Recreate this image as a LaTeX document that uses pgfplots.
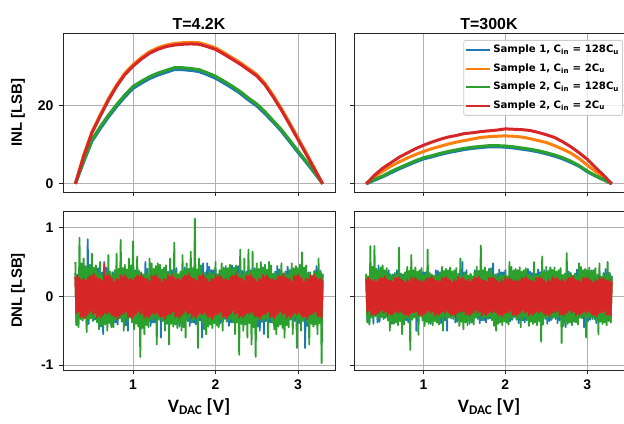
\documentclass[border=0pt]{standalone}
\usepackage{fontspec}
\setmainfont{Liberation Sans}
\newfontfamily\legfont{DejaVu Sans}
\newfontfamily\labfont{Carlito}
\usepackage{pgfplots}
\usepackage{pgfplotstable}
\pgfplotsset{compat=1.18}

\definecolor{c1}{HTML}{1F77B4}
\definecolor{c2}{HTML}{FF7F0E}
\definecolor{c3}{HTML}{2CA02C}
\definecolor{c4}{HTML}{D62728}
\definecolor{gridgray}{HTML}{B0B0B0}
\definecolor{leggray}{HTML}{CCCCCC}

% INL, T=4.2K
\pgfplotstableread{
x b o g r
0.3 0 0 0 0
0.4 5.6 7.3 5.8 7.0
0.5 10.9 13.3 11.3 13.0
0.6 14.1 17.7 14.6 17.3
0.7 17.1 21.8 17.6 21.4
0.8 19.8 25.4 20.3 25.0
0.9 22.3 28.4 22.8 28.0
1.0 24.5 30.6 25.0 30.2
1.1 25.8 32.4 26.3 32.0
1.2 27.0 33.9 27.5 33.5
1.3 27.9 34.9 28.4 34.5
1.4 28.6 35.6 29.1 35.2
1.5 29.3 36.0 29.8 35.6
1.6 29.3 36.2 29.8 35.8
1.7 29.1 36.3 29.6 35.9
1.8 28.8 36.2 29.3 35.8
1.9 28.0 35.6 28.5 35.2
2.0 27.1 34.9 27.6 34.5
2.1 25.9 33.7 26.4 33.3
2.2 24.6 32.4 25.1 32.0
2.3 23.2 31.1 23.7 30.7
2.4 21.5 29.6 22.0 29.2
2.5 20.0 28.1 20.5 27.7
2.6 18.0 25.8 18.5 25.4
2.7 15.8 22.7 16.2 22.3
2.8 13.5 19.3 13.9 18.9
2.9 10.8 15.6 11.2 15.2
3.0 8.1 11.8 8.5 11.4
3.1 5.5 8.0 5.8 7.6
3.2 2.8 4.0 3.0 3.8
3.3 0 0 0 0
}\inlcold

% INL, T=300K
\pgfplotstableread{
x b o g r
0.3 0 0 0 0
0.4 0.9 1.8 1.1 2.2
0.5 1.8 3.2 2.0 4.0
0.6 2.8 4.5 3.1 5.4
0.7 3.8 5.6 4.1 6.8
0.8 4.7 6.6 5.0 7.9
0.9 5.6 7.5 5.9 9.0
1.0 6.4 8.3 6.7 9.9
1.1 6.9 9.0 7.2 10.7
1.2 7.5 9.6 7.8 11.4
1.3 8.0 10.2 8.3 12.0
1.4 8.4 10.7 8.7 12.4
1.5 8.8 11.1 9.1 12.9
1.6 9.1 11.5 9.4 13.1
1.7 9.3 11.9 9.6 13.4
1.8 9.5 12.1 9.8 13.6
1.9 9.5 12.2 9.8 13.8
2.0 9.4 12.3 9.7 14.1
2.1 9.2 12.2 9.5 14.0
2.2 8.9 12.0 9.2 13.9
2.3 8.6 11.6 8.9 13.7
2.4 8.2 11.1 8.5 13.2
2.5 7.7 10.6 8.0 12.6
2.6 7.1 9.8 7.4 11.9
2.7 6.4 8.9 6.7 10.8
2.8 5.5 7.9 5.8 9.5
2.9 4.5 6.5 4.7 8.0
3.0 3.1 4.8 3.3 6.3
3.1 2.0 3.2 2.1 4.2
3.2 1.0 1.6 1.1 2.2
3.3 0 0 0 0
}\inlhot

% DNL, T=4.2K (orange lies under red)
\pgfplotstableread{
x b g r
0.3000 0.34 0.50 0.28
0.3125 -0.38 -0.42 -0.25
0.3250 0.30 0.31 0.31
0.3375 -0.41 -0.45 -0.22
0.3500 0.36 0.85 0.27
0.3625 -0.32 -0.33 -0.30
0.3750 0.44 0.48 0.24
0.3875 -0.35 -0.35 -0.29
0.4000 0.39 0.55 0.26
0.4125 -0.31 -0.30 -0.32
0.4250 0.37 0.44 0.23
0.4375 -0.42 -0.52 -0.28
0.4500 0.83 0.41 0.27
0.4625 -0.40 -0.34 -0.25
0.4750 0.36 0.46 0.30
0.4875 -0.30 -0.32 -0.21
0.5000 0.43 0.62 0.29
0.5125 -0.35 -0.36 -0.26
0.5250 0.38 0.42 0.33
0.5375 -0.34 -0.31 -0.24
0.5500 0.38 0.45 0.28
0.5625 -0.30 -0.38 -0.31
0.5750 0.41 0.33 0.26
0.5875 -0.36 -0.48 -0.28
0.6000 0.32 0.50 0.25
0.6125 -0.44 -0.40 -0.31
0.6250 0.35 0.30 0.22
0.6375 -0.55 -0.44 -0.27
0.6500 0.50 0.37 0.47
0.6625 -0.37 -0.41 -0.24
0.6750 0.42 0.34 0.29
0.6875 -0.33 -0.50 -0.26
0.7000 0.40 0.60 0.32
0.7125 -0.36 -0.39 -0.23
0.7250 0.30 0.36 0.28
0.7375 -0.43 -0.45 -0.27
0.7500 0.35 0.31 0.25
0.7625 -0.38 -0.45 -0.30
0.7750 0.34 0.38 0.21
0.7875 -0.38 -0.33 -0.29
0.8000 0.30 0.62 0.26
0.8125 -0.41 -0.35 -0.33
0.8250 0.36 0.40 0.24
0.8375 -0.32 -0.30 -0.28
0.8500 0.44 0.82 0.31
0.8625 -0.35 -0.37 -0.26
0.8750 0.39 0.41 0.28
0.8875 -0.31 -0.50 -0.25
0.9000 0.37 0.46 0.31
0.9125 -0.42 -0.32 -0.22
0.9250 0.33 0.39 0.27
0.9375 -0.50 -0.36 -0.30
0.9500 0.36 0.55 0.24
0.9625 -0.30 -0.31 -0.29
0.9750 0.43 0.45 0.26
0.9875 -0.35 -0.38 -0.32
1.0000 0.38 0.80 0.23
1.0125 -0.34 -0.48 -0.28
1.0250 0.38 0.35 0.27
1.0375 -0.30 -0.40 -0.25
1.0500 0.41 0.58 0.30
1.0625 -0.36 -0.44 -0.21
1.0750 0.32 0.37 0.29
1.0875 -0.44 -0.88 -0.26
1.1000 0.35 0.34 0.33
1.1125 -0.39 -0.46 -0.24
1.1250 0.31 0.32 0.28
1.1375 -0.37 -0.55 -0.31
1.1500 0.50 0.36 0.26
1.1625 -0.33 -0.42 -0.28
1.1750 0.40 0.31 0.25
1.1875 -0.36 -0.45 -0.31
1.2000 0.30 0.55 0.22
1.2125 -0.43 -0.33 -0.27
1.2250 0.35 0.48 0.30
1.2375 -0.38 -0.35 -0.24
1.2500 0.34 0.40 0.29
1.2625 -0.38 -0.30 -0.26
1.2750 0.30 0.44 0.32
1.2875 -0.41 -0.70 -0.23
1.3000 0.36 0.48 0.28
1.3125 -0.32 -0.34 -0.27
1.3250 0.44 0.46 0.25
1.3375 -0.60 -0.32 -0.30
1.3500 0.39 0.39 0.21
1.3625 -0.31 -0.36 -0.29
1.3750 0.37 0.42 0.26
1.3875 -0.42 -0.50 -0.33
1.4000 0.33 0.45 0.24
1.4125 -0.40 -0.38 -0.28
1.4250 0.36 0.33 0.31
1.4375 -0.30 -0.70 -0.26
1.4500 0.43 0.55 0.28
1.4625 -0.35 -0.40 -0.25
1.4750 0.38 0.30 0.31
1.4875 -0.34 -0.44 -0.22
1.5000 0.38 0.78 0.27
1.5125 -0.30 -0.41 -0.30
1.5250 0.41 0.34 0.24
1.5375 -0.36 -0.46 -0.29
1.5500 0.32 0.32 0.26
1.5625 -0.44 -0.39 -0.32
1.5750 0.35 0.36 0.23
1.5875 -0.39 -0.50 -0.28
1.6000 0.31 0.60 0.27
1.6125 -0.37 -0.45 -0.25
1.6250 0.42 0.38 0.30
1.6375 -0.33 -0.60 -0.21
1.6500 0.40 0.48 0.29
1.6625 -0.36 -0.35 -0.26
1.6750 0.30 0.40 0.33
1.6875 -0.43 -0.30 -0.24
1.7000 0.35 0.65 0.28
1.7125 -0.38 -0.37 -0.31
1.7250 0.34 0.41 0.26
1.7375 -0.38 -0.34 -0.28
1.7500 0.30 1.13 0.25
1.7625 -0.41 -0.32 -0.31
1.7750 0.36 0.39 0.22
1.7875 -0.32 -0.75 -0.27
1.8000 0.44 0.55 0.30
1.8125 -0.35 -0.31 -0.24
1.8250 0.39 0.45 0.29
1.8375 -0.60 -0.38 -0.26
1.8500 0.48 0.33 0.32
1.8625 -0.42 -0.48 -0.23
1.8750 0.33 0.35 0.28
1.8875 -0.55 -0.55 -0.27
1.9000 0.48 0.30 0.25
1.9125 -0.30 -0.44 -0.30
1.9250 0.43 0.37 0.21
1.9375 -0.35 -0.41 -0.29
1.9500 0.38 0.34 0.26
1.9625 -0.34 -0.46 -0.33
1.9750 0.38 0.32 0.24
1.9875 -0.30 -0.39 -0.28
2.0000 0.41 0.50 0.31
2.0125 -0.36 -0.42 -0.26
2.0250 0.32 0.31 0.28
2.0375 -0.44 -0.45 -0.25
2.0500 0.35 0.38 0.31
2.0625 -0.39 -0.33 -0.22
2.0750 0.31 0.48 0.27
2.0875 -0.37 -0.50 -0.30
2.1000 0.42 0.40 0.24
2.1125 -0.33 -0.30 -0.29
2.1250 0.40 0.44 0.26
2.1375 -0.36 -0.37 -0.32
2.1500 0.30 0.41 0.23
2.1625 -0.43 -0.34 -0.28
2.1750 0.35 0.46 0.27
2.1875 -0.38 -0.32 -0.25
2.2000 0.45 0.39 0.30
2.2125 -0.38 -0.36 -0.21
2.2250 0.30 0.42 0.29
2.2375 -0.41 -0.55 -0.26
2.2500 0.36 0.45 0.33
2.2625 -0.32 -0.38 -0.24
2.2750 0.44 0.33 0.28
2.2875 -0.35 -0.85 -0.31
2.3000 0.39 0.68 0.26
2.3125 -0.31 -0.40 -0.28
2.3250 0.37 0.30 0.25
2.3375 -0.42 -0.50 -0.31
2.3500 0.33 0.55 0.22
2.3625 -0.40 -0.41 -0.27
2.3750 0.36 0.34 0.30
2.3875 -0.30 -0.60 -0.24
2.4000 0.43 0.68 0.29
2.4125 -0.35 -0.39 -0.26
2.4250 0.38 0.36 0.32
2.4375 -0.34 -0.70 -0.23
2.4500 0.38 0.65 0.28
2.4625 -0.30 -0.45 -0.27
2.4750 0.41 0.38 0.25
2.4875 -0.36 -0.88 -0.30
2.5000 0.32 0.48 0.21
2.5125 -0.44 -0.35 -0.29
2.5250 0.35 0.40 0.26
2.5375 -0.50 -0.30 -0.33
2.5500 0.31 0.50 0.24
2.5625 -0.37 -0.37 -0.28
2.5750 0.42 0.41 0.31
2.5875 -0.55 -0.34 -0.26
2.6000 0.40 0.46 0.28
2.6125 -0.36 -0.32 -0.25
2.6250 0.30 0.39 0.31
2.6375 -0.43 -0.60 -0.22
2.6500 0.35 0.50 0.27
2.6625 -0.38 -0.31 -0.30
2.6750 0.34 0.45 0.24
2.6875 -0.38 -0.38 -0.29
2.7000 0.30 0.33 0.26
2.7125 -0.41 -0.48 -0.32
2.7250 0.36 0.35 0.23
2.7375 -0.32 -0.55 -0.28
2.7500 0.44 0.30 0.27
2.7625 -0.35 -0.44 -0.25
2.7750 0.39 0.37 0.30
2.7875 -0.31 -0.41 -0.21
2.8000 0.37 0.48 0.29
2.8125 -0.42 -0.46 -0.26
2.8250 0.33 0.32 0.33
2.8375 -0.40 -0.60 -0.24
2.8500 0.36 0.36 0.28
2.8625 -0.30 -0.42 -0.31
2.8750 0.43 0.31 0.26
2.8875 -0.35 -0.45 -0.28
2.9000 0.38 0.38 0.25
2.9125 -0.34 -0.33 -0.31
2.9250 0.38 0.48 0.22
2.9375 -0.30 -0.55 -0.27
2.9500 0.41 0.40 0.30
2.9625 -0.36 -0.30 -0.24
2.9750 0.32 0.44 0.29
2.9875 -0.44 -0.75 -0.26
3.0000 0.35 0.41 0.32
3.0125 -0.39 -0.34 -0.23
3.0250 0.31 0.46 0.28
3.0375 -0.37 -0.50 -0.27
3.0500 0.42 0.64 0.25
3.0625 -0.33 -0.36 -0.30
3.0750 0.40 0.42 0.21
3.0875 -0.75 -0.31 -0.29
3.1000 0.30 0.45 0.26
3.1125 -0.43 -0.38 -0.33
3.1250 0.35 0.33 0.24
3.1375 -0.38 -0.70 -0.28
3.1500 0.34 0.35 0.31
3.1625 -0.38 -0.40 -0.26
3.1750 0.30 0.30 0.28
3.1875 -0.41 -0.44 -0.25
3.2000 0.36 0.37 0.31
3.2125 -0.32 -0.41 -0.22
3.2250 0.44 0.34 0.27
3.2375 -0.35 -0.55 -0.30
3.2500 0.39 0.55 0.24
3.2625 -0.31 -0.39 -0.29
3.2750 0.37 0.36 0.26
3.2875 -0.42 -0.97 -0.32
3.3000 0.33 0.31 0.23
}\dnlcold

% DNL, T=300K
\pgfplotstableread{
x b g r
0.3000 0.31 0.33 0.25
0.3125 -0.35 -0.38 -0.23
0.3250 0.28 0.29 0.27
0.3375 -0.38 -0.41 -0.21
0.3500 0.33 0.73 0.24
0.3625 -0.29 -0.31 -0.27
0.3750 0.40 0.43 0.22
0.3875 -0.40 -0.32 -0.26
0.4000 0.36 0.73 0.24
0.4125 -0.28 -0.28 -0.28
0.4250 0.34 0.40 0.21
0.4375 -0.38 -0.34 -0.25
0.4500 0.45 0.38 0.24
0.4625 -0.37 -0.31 -0.23
0.4750 0.33 0.42 0.27
0.4875 -0.28 -0.30 -0.20
0.5000 0.39 0.45 0.26
0.5125 -0.32 -0.33 -0.24
0.5250 0.35 0.38 0.29
0.5375 -0.31 -0.29 -0.22
0.5500 0.35 0.41 0.25
0.5625 -0.28 -0.35 -0.28
0.5750 0.38 0.31 0.23
0.5875 -0.33 -0.50 -0.25
0.6000 0.29 0.32 0.23
0.6125 -0.40 -0.37 -0.27
0.6250 0.32 0.28 0.21
0.6375 -0.36 -0.40 -0.24
0.6500 0.28 0.34 0.27
0.6625 -0.34 -0.38 -0.22
0.6750 0.38 0.31 0.26
0.6875 -0.30 -0.42 -0.24
0.7000 0.37 0.71 0.28
0.7125 -0.33 -0.36 -0.21
0.7250 0.28 0.33 0.25
0.7375 -0.39 -0.55 -0.24
0.7500 0.32 0.29 0.23
0.7625 -0.35 -0.41 -0.27
0.7750 0.31 0.35 0.20
0.7875 -0.35 -0.31 -0.26
0.8000 0.28 0.43 0.24
0.8125 -0.38 -0.32 -0.29
0.8250 0.33 0.37 0.22
0.8375 -0.29 -0.78 -0.25
0.8500 0.40 0.60 0.28
0.8625 -0.32 -0.34 -0.23
0.8750 0.36 0.38 0.25
0.8875 -0.28 -0.31 -0.23
0.9000 0.34 0.42 0.27
0.9125 -0.50 -0.30 -0.21
0.9250 0.30 0.36 0.24
0.9375 -0.37 -0.56 -0.27
0.9500 0.33 0.38 0.22
0.9625 -0.28 -0.29 -0.26
0.9750 0.39 0.41 0.24
0.9875 -0.32 -0.35 -0.28
1.0000 0.35 0.31 0.21
1.0125 -0.31 -0.43 -0.25
1.0250 0.35 0.32 0.24
1.0375 -0.28 -0.37 -0.23
1.0500 0.38 0.68 0.27
1.0625 -0.33 -0.40 -0.20
1.0750 0.29 0.34 0.26
1.0875 -0.40 -0.38 -0.24
1.1000 0.32 0.31 0.29
1.1125 -0.36 -0.42 -0.22
1.1250 0.28 0.30 0.25
1.1375 -0.34 -0.36 -0.28
1.1500 0.38 0.33 0.23
1.1625 -0.30 -0.38 -0.25
1.1750 0.37 0.29 0.23
1.1875 -0.33 -0.41 -0.27
1.2000 0.28 0.35 0.21
1.2125 -0.39 -0.31 -0.24
1.2250 0.32 0.43 0.27
1.2375 -0.35 -0.50 -0.22
1.2500 0.31 0.37 0.26
1.2625 -0.35 -0.28 -0.24
1.2750 0.28 0.40 0.28
1.2875 -0.50 -0.34 -0.21
1.3000 0.33 0.38 0.25
1.3125 -0.29 -0.31 -0.24
1.3250 0.40 0.42 0.23
1.3375 -0.32 -0.30 -0.27
1.3500 0.36 0.36 0.20
1.3625 -0.28 -0.33 -0.26
1.3750 0.34 0.38 0.24
1.3875 -0.38 -0.29 -0.29
1.4000 0.30 0.41 0.22
1.4125 -0.37 -0.35 -0.25
1.4250 0.33 0.31 0.28
1.4375 -0.28 -0.43 -0.23
1.4500 0.39 0.55 0.25
1.4625 -0.32 -0.37 -0.23
1.4750 0.50 0.28 0.27
1.4875 -0.31 -0.48 -0.21
1.5000 0.35 0.34 0.24
1.5125 -0.28 -0.38 -0.27
1.5250 0.38 0.31 0.22
1.5375 -0.33 -0.42 -0.26
1.5500 0.29 0.30 0.24
1.5625 -0.40 -0.36 -0.28
1.5750 0.32 0.33 0.21
1.5875 -0.36 -0.38 -0.25
1.6000 0.28 0.29 0.24
1.6125 -0.34 -0.41 -0.23
1.6250 0.38 0.35 0.27
1.6375 -0.30 -0.31 -0.20
1.6500 0.37 0.43 0.26
1.6625 -0.33 -0.32 -0.24
1.6750 0.28 0.37 0.29
1.6875 -0.39 -0.28 -0.22
1.7000 0.32 0.74 0.25
1.7125 -0.35 -0.34 -0.28
1.7250 0.31 0.38 0.23
1.7375 -0.35 -0.31 -0.25
1.7500 0.28 0.42 0.23
1.7625 -0.38 -0.30 -0.27
1.7750 0.33 0.36 0.21
1.7875 -0.29 -0.33 -0.24
1.8000 0.40 0.38 0.27
1.8125 -0.32 -0.29 -0.22
1.8250 0.36 0.41 0.26
1.8375 -0.28 -0.35 -0.24
1.8500 0.48 0.31 0.28
1.8625 -0.38 -0.43 -0.21
1.8750 0.30 0.32 0.25
1.8875 -0.37 -0.50 -0.24
1.9000 0.33 0.28 0.23
1.9125 -0.28 -0.40 -0.27
1.9250 0.39 0.34 0.20
1.9375 -0.32 -0.38 -0.26
1.9500 0.35 0.31 0.24
1.9625 -0.31 -0.42 -0.29
1.9750 0.35 0.30 0.22
1.9875 -0.28 -0.36 -0.25
2.0000 0.38 0.33 0.28
2.0125 -0.33 -0.38 -0.23
2.0250 0.29 0.29 0.25
2.0375 -0.40 -0.41 -0.23
2.0500 0.32 0.50 0.27
2.0625 -0.36 -0.31 -0.21
2.0750 0.28 0.43 0.24
2.0875 -0.34 -0.32 -0.27
2.1000 0.38 0.37 0.22
2.1125 -0.30 -0.28 -0.26
2.1250 0.37 0.40 0.24
2.1375 -0.33 -0.34 -0.28
2.1500 0.28 0.38 0.21
2.1625 -0.39 -0.31 -0.25
2.1750 0.32 0.42 0.24
2.1875 -0.35 -0.45 -0.23
2.2000 0.31 0.36 0.27
2.2125 -0.35 -0.33 -0.20
2.2250 0.28 0.38 0.26
2.2375 -0.38 -0.29 -0.24
2.2500 0.33 0.41 0.29
2.2625 -0.29 -0.35 -0.22
2.2750 0.40 0.31 0.25
2.2875 -0.32 -0.43 -0.28
2.3000 0.36 0.32 0.23
2.3125 -0.28 -0.37 -0.25
2.3250 0.34 0.28 0.23
2.3375 -0.38 -0.40 -0.27
2.3500 0.30 0.50 0.21
2.3625 -0.37 -0.38 -0.24
2.3750 0.33 0.31 0.27
2.3875 -0.28 -0.42 -0.22
2.4000 0.39 0.30 0.26
2.4125 -0.32 -0.36 -0.24
2.4250 0.35 0.33 0.28
2.4375 -0.31 -0.66 -0.21
2.4500 0.35 0.58 0.25
2.4625 -0.28 -0.41 -0.24
2.4750 0.38 0.35 0.23
2.4875 -0.33 -0.31 -0.27
2.5000 0.29 0.43 0.20
2.5125 -0.40 -0.32 -0.26
2.5250 0.32 0.37 0.24
2.5375 -0.36 -0.28 -0.29
2.5500 0.42 0.40 0.22
2.5625 -0.34 -0.34 -0.25
2.5750 0.38 0.38 0.28
2.5875 -0.30 -0.31 -0.23
2.6000 0.37 0.42 0.25
2.6125 -0.33 -0.30 -0.23
2.6250 0.28 0.36 0.27
2.6375 -0.39 -0.33 -0.21
2.6500 0.32 0.38 0.24
2.6625 -0.35 -0.29 -0.27
2.6750 0.31 0.41 0.22
2.6875 -0.35 -0.68 -0.26
2.7000 0.28 0.31 0.24
2.7125 -0.38 -0.43 -0.28
2.7250 0.33 0.32 0.21
2.7375 -0.45 -0.37 -0.25
2.7500 0.40 0.63 0.24
2.7625 -0.32 -0.40 -0.23
2.7750 0.36 0.34 0.27
2.7875 -0.28 -0.38 -0.20
2.8000 0.34 0.31 0.26
2.8125 -0.38 -0.42 -0.24
2.8250 0.30 0.30 0.29
2.8375 -0.37 -0.36 -0.22
2.8500 0.33 0.33 0.25
2.8625 -0.28 -0.38 -0.28
2.8750 0.39 0.29 0.23
2.8875 -0.32 -0.41 -0.25
2.9000 0.35 0.48 0.23
2.9125 -0.31 -0.31 -0.27
2.9250 0.35 0.43 0.21
2.9375 -0.28 -0.32 -0.24
2.9500 0.38 0.37 0.27
2.9625 -0.45 -0.28 -0.22
2.9750 0.29 0.40 0.26
2.9875 -0.40 -0.60 -0.24
3.0000 0.32 0.38 0.28
3.0125 -0.36 -0.31 -0.21
3.0250 0.28 0.42 0.25
3.0375 -0.34 -0.30 -0.24
3.0500 0.38 0.36 0.23
3.0625 -0.30 -0.33 -0.27
3.0750 0.37 0.38 0.20
3.0875 -0.33 -0.29 -0.26
3.1000 0.28 0.41 0.24
3.1125 -0.39 -0.35 -0.29
3.1250 0.32 0.31 0.22
3.1375 -0.35 -0.55 -0.25
3.1500 0.31 0.48 0.28
3.1625 -0.35 -0.37 -0.23
3.1750 0.28 0.28 0.25
3.1875 -0.38 -0.40 -0.23
3.2000 0.33 0.34 0.27
3.2125 -0.29 -0.38 -0.21
3.2250 0.40 0.31 0.24
3.2375 -0.32 -0.42 -0.27
3.2500 0.36 0.50 0.22
3.2625 -0.28 -0.36 -0.26
3.2750 0.34 0.33 0.24
3.2875 -0.38 -0.38 -0.28
3.3000 0.30 0.29 0.21
}\dnlhot

\pgfplotsset{
  panel/.style={
    scale only axis,
    height=159bp,
    xmin=0.15, xmax=3.45,
    xtick={1,2,3},
    grid=major,
    major grid style={color=gridgray, line width=0.8bp},
    axis line style={line width=0.9bp, black!85},
    tick pos=left,
    tick align=outside,
    major tick length=4bp,
    tick style={line width=0.8bp, black!85},
    /pgf/number format/assume math mode=true,
    ticklabel style={font=\bfseries\fontsize{14}{14}\selectfont},
    xticklabel style={yshift=-2bp},
    yticklabel style={xshift=-2bp},
    title style={font=\bfseries\fontsize{16}{16}\selectfont, yshift=-6bp},
    every axis y label/.style={at={(axis description cs:-0.165,0.5)}, rotate=90, anchor=center,
      font=\bfseries\fontsize{15}{15}\selectfont},
    every axis x label/.style={at={(axis description cs:0.5,0)}, anchor=base, yshift=-42bp,
      font=\labfont\bfseries\fontsize{19}{19}\selectfont},
    every axis plot/.append style={no markers, line join=round},
  },
  inl/.style={panel, ymin=-2.1, ymax=38.7, ytick={0,20},
    every axis plot/.append style={line width=3bp}},
  dnl/.style={panel, ymin=-1.07, ymax=1.24, ytick={-1,0,1},
    every axis plot/.append style={line width=1.8bp}},
}

\begin{document}
\begin{tikzpicture}
\path[use as bounding box] (0bp,0bp) rectangle (624bp,424bp);

% top left: INL 4.2K
\begin{axis}[inl, at={(63bp,232bp)}, anchor=south west, width=272bp,
  xticklabels={}, title={T=4.2K}, ylabel={INL [LSB]}]
\addplot[c1] table[x=x, y=b] {\inlcold};
\addplot[c2] table[x=x, y=o] {\inlcold};
\addplot[c3] table[x=x, y=g] {\inlcold};
\addplot[c4] table[x=x, y=r] {\inlcold};
\end{axis}

% top right: INL 300K
\begin{axis}[inl, at={(354bp,232bp)}, anchor=south west, width=270bp,
  xticklabels={}, yticklabels={}, title={T=300K},
  legend cell align=left,
  legend image code/.code={\draw[#1, line width=2bp] (0bp,0bp) -- (24bp,0bp);},
  legend style={at={(0.996,0.956)}, anchor=north east,
    font=\legfont\bfseries\fontsize{10.2}{12}\selectfont,
    draw=leggray, line width=0.8bp, fill=white, fill opacity=0.8, text opacity=1,
    rounded corners=2bp, inner xsep=1bp, inner ysep=2bp, row sep=3bp,
    nodes={inner xsep=2.5bp, inner ysep=2bp, text height=8.5bp, text depth=3bp}}]
\addplot[c1] table[x=x, y=b] {\inlhot};
\addlegendentry{Sample 1, C\textsubscript{in} = 128C\textsubscript{u}}
\addplot[c2] table[x=x, y=o] {\inlhot};
\addlegendentry{Sample 1, C\textsubscript{in} = 2C\textsubscript{u}}
\addplot[c3] table[x=x, y=g] {\inlhot};
\addlegendentry{Sample 2, C\textsubscript{in} = 128C\textsubscript{u}}
\addplot[c4] table[x=x, y=r] {\inlhot};
\addlegendentry{Sample 2, C\textsubscript{in} = 2C\textsubscript{u}}
\end{axis}

% bottom left: DNL 4.2K
\begin{axis}[dnl, at={(63bp,54bp)}, anchor=south west, width=272bp,
  ylabel={DNL [LSB]}, xlabel={V\textsubscript{DAC} [V]}]
\addplot[c1] table[x=x, y=b] {\dnlcold};
\addplot[c2] table[x=x, y=r] {\dnlcold};
\addplot[c3] table[x=x, y=g] {\dnlcold};
\addplot[c4] table[x=x, y=r] {\dnlcold};
\end{axis}

% bottom right: DNL 300K
\begin{axis}[dnl, at={(354bp,54bp)}, anchor=south west, width=270bp,
  yticklabels={}, xlabel={V\textsubscript{DAC} [V]}]
\addplot[c1] table[x=x, y=b] {\dnlhot};
\addplot[c2] table[x=x, y=r] {\dnlhot};
\addplot[c3] table[x=x, y=g] {\dnlhot};
\addplot[c4] table[x=x, y=r] {\dnlhot};
\end{axis}
\end{tikzpicture}
\end{document}
